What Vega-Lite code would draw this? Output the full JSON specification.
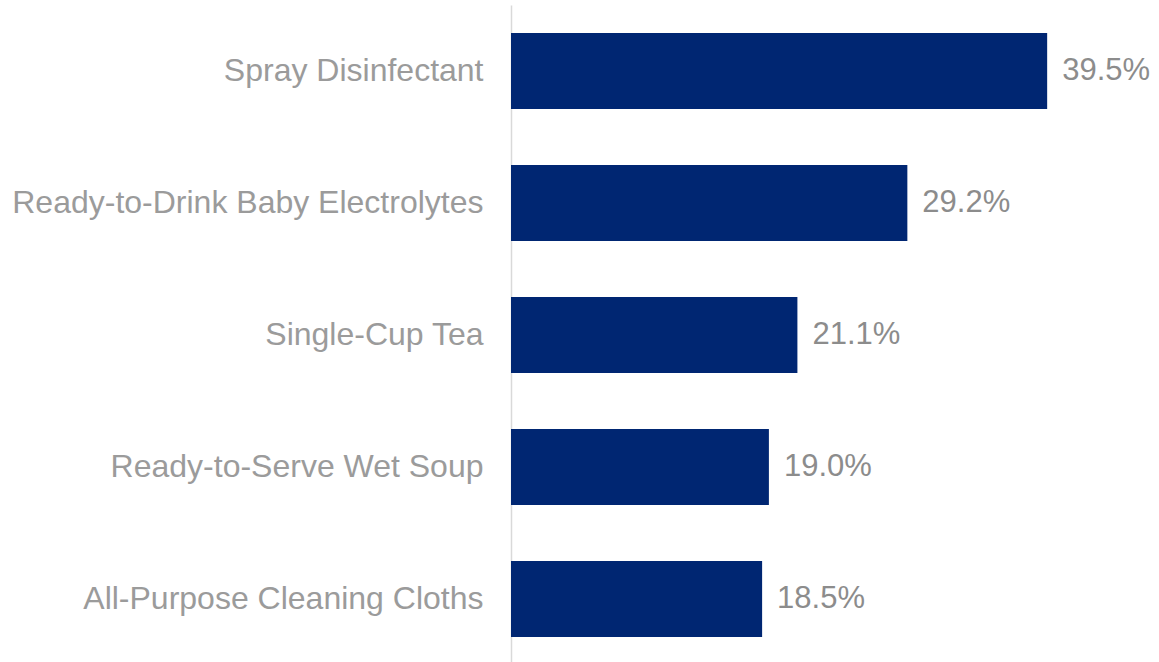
{
  "$schema": "https://vega.github.io/schema/vega-lite/v6.json",
  "autosize": {"type": "none"},
  "width": 640,
  "height": 660,
  "padding": {"left": 511, "top": 5, "right": 0, "bottom": 0},
  "background": "white",
  "config": {"view": {"stroke": null}, "font": "Arial, Liberation Sans, sans-serif"},
  "data": {"values": [
    {"category": "Spray Disinfectant", "value": 0.395},
    {"category": "Ready-to-Drink Baby Electrolytes", "value": 0.292},
    {"category": "Single-Cup Tea", "value": 0.211},
    {"category": "Ready-to-Serve Wet Soup", "value": 0.190},
    {"category": "All-Purpose Cleaning Cloths", "value": 0.185}
  ]},
  "encoding": {
    "y": {"field": "category", "type": "nominal", "sort": null,
      "scale": {"paddingInner": 0.424, "paddingOuter": 0.212},
      "axis": {"title": null, "ticks": false, "domain": true, "domainColor": "#d9d9d9", "domainWidth": 1.5,
        "labelFontSize": 32, "labelColor": "#9b9b9b", "labelPadding": 28, "labelLimit": 600, "labelFont": "Arial, Liberation Sans, sans-serif"}},
    "x": {"field": "value", "type": "quantitative", "scale": {"domain": [0, 0.4715]}, "axis": null}
  },
  "layer": [
    {"mark": {"type": "bar", "color": "#002672"}},
    {"mark": {"type": "text", "align": "left", "baseline": "middle", "dx": 15, "fontSize": 31, "color": "#8c8c8c", "font": "Arial, Liberation Sans, sans-serif"},
     "encoding": {"text": {"field": "value", "type": "quantitative", "format": ".1%"}}}
  ]
}
